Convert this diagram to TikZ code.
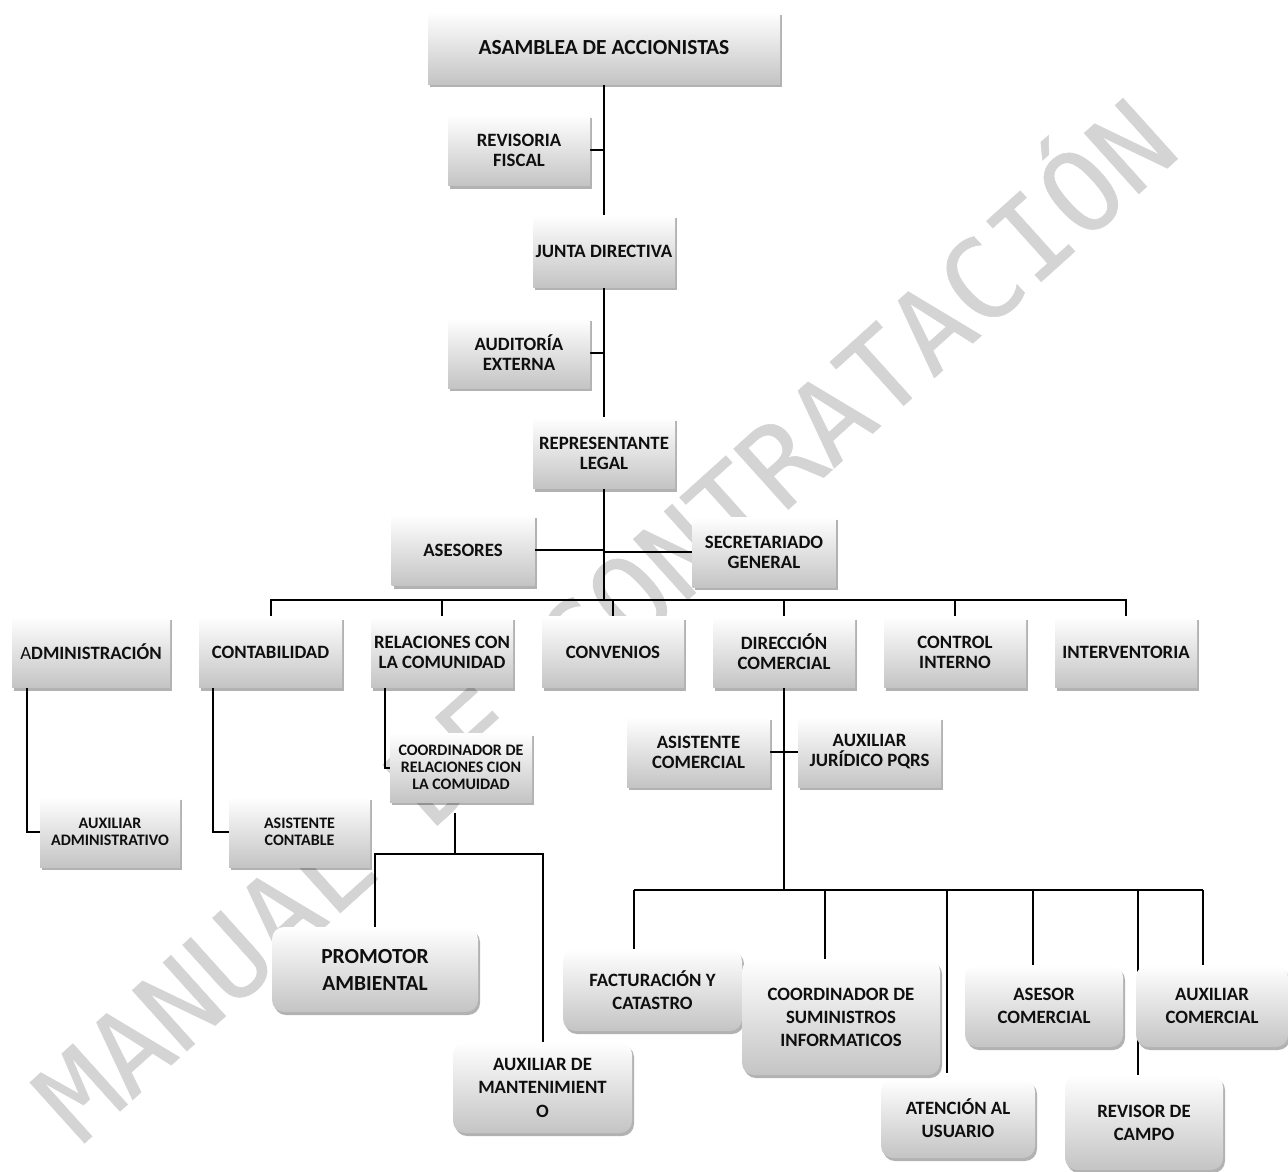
\documentclass[tikz,border=0pt]{standalone}
\usepackage{fontspec}
\setmainfont{Carlito}
\newfontfamily\wmfont[FakeBold=0.5]{DejaVu Sans Mono}
\usetikzlibrary{shadows,calc}
\pgfdeclarelayer{wm}\pgfdeclarelayer{bg}
\pgfsetlayers{wm,bg,main}
\definecolor{boxbot}{RGB}{196,196,196}
\definecolor{wmgray}{RGB}{212,212,212}
\definecolor{txt}{RGB}{15,15,15}
\begin{document}
\begin{tikzpicture}[x=1pt,y=-1pt,
 box/.style={top color=white,bottom color=boxbot,draw=none,align=center,text=txt,inner sep=0pt,
   font=\bfseries\fontsize{18.8}{20}\selectfont,
   drop shadow={shadow xshift=2pt,shadow yshift=-3pt,opacity=0.3,fill=black}},
 small/.style={font=\bfseries\fontsize{16}{17}\selectfont},
 rbox/.style={box,rounded corners=12pt,font=\bfseries\fontsize{18.8}{23}\selectfont},
 link/.style={line width=2pt,black},
]
\useasboundingbox (0,0) rectangle (1288,1171);
\begin{pgfonlayer}{wm}
\node[rotate=42,text=wmgray,inner sep=0pt,font=\wmfont\fontsize{112}{112}\selectfont] (wm) at (598,612) {MANUAL DE CONTRATACIÓN};
\end{pgfonlayer}
% nodes
\node[box,minimum width=352,minimum height=72,font=\bfseries\fontsize{21.5}{22}\selectfont] (asam) at (604,48) {ASAMBLEA DE ACCIONISTAS};
\node[box,minimum width=142,minimum height=71] (rev) at (519,150) {REVISORIA\\FISCAL};
\node[box,minimum width=142,minimum height=72] (junta) at (604,251) {JUNTA DIRECTIVA};
\node[box,minimum width=142,minimum height=70] (aud) at (519,353) {AUDITORÍA\\EXTERNA};
\node[box,minimum width=142,minimum height=71] (repr) at (604,453) {REPRESENTANTE\\LEGAL};
\node[box,minimum width=143,minimum height=71] (ases) at (463,550) {ASESORES};
\node[box,minimum width=143,minimum height=70] (secr) at (764,552) {SECRETARIADO\\GENERAL};
\node[box,minimum width=158,minimum height=71] (adm) at (91,652) {{\mdseries A}DMINISTRACIÓN};
\node[box,minimum width=143,minimum height=71] (cont) at (270.5,652) {CONTABILIDAD};
\node[box,minimum width=142,minimum height=71] (rel) at (442,652) {RELACIONES CON\\LA COMUNIDAD};
\node[box,minimum width=142,minimum height=71] (conv) at (613,652) {CONVENIOS};
\node[box,minimum width=142,minimum height=71] (dir) at (784,652) {DIRECCIÓN\\COMERCIAL};
\node[box,minimum width=142,minimum height=71] (ctrl) at (955,652) {CONTROL\\INTERNO};
\node[box,minimum width=142,minimum height=71] (inter) at (1126,652) {INTERVENTORIA};
\node[box,small,minimum width=140,minimum height=70] (auxadm) at (110,832) {AUXILIAR\\ADMINISTRATIVO};
\node[box,small,minimum width=141,minimum height=70] (asicont) at (299.5,832) {ASISTENTE\\CONTABLE};
\node[box,small,minimum width=142,minimum height=69] (coordrel) at (461,767.5) {COORDINADOR DE\\RELACIONES CION\\LA COMUIDAD};
\node[box,minimum width=143,minimum height=70] (asicom) at (698.5,752) {ASISTENTE\\COMERCIAL};
\node[box,minimum width=143,minimum height=70] (auxjur) at (869.5,752) {AUXILIAR\\JURÍDICO PQRS};
\node[rbox,minimum width=206,minimum height=85,font=\bfseries\fontsize{21.5}{27}\selectfont] (promo) at (375,969.5) {PROMOTOR\\AMBIENTAL};
\node[rbox,minimum width=179,minimum height=91,font=\bfseries\fontsize{18.8}{23.5}\selectfont] (mant) at (542.5,1087.5) {AUXILIAR DE\\MANTENIMIENT\\O};
\node[rbox,minimum width=179,minimum height=82] (fact) at (652.5,990) {FACTURACIÓN Y\\CATASTRO};
\node[rbox,minimum width=198,minimum height=116] (sumin) at (841,1017) {COORDINADOR DE\\SUMINISTROS\\INFORMATICOS};
\node[rbox,minimum width=154,minimum height=79] (aten) at (958,1118.5) {ATENCIÓN AL\\USUARIO};
\node[rbox,minimum width=158,minimum height=82] (asesor) at (1044,1006) {ASESOR\\COMERCIAL};
\node[rbox,minimum width=158,minimum height=95] (revisor) at (1144,1122.5) {REVISOR DE\\CAMPO};
\node[rbox,minimum width=152,minimum height=82] (auxcom) at (1212,1006) {AUXILIAR\\COMERCIAL};
% coordinates
\coordinate (bus) at (604,600);
\coordinate (b2) at (455,854);
\coordinate (b3) at (784,890);
\coordinate (d1) at (634,890);
\coordinate (d2) at (825,890);
\coordinate (d3) at (947,890);
\coordinate (d4) at (1033,890);
\coordinate (d5) at (1138,890);
\coordinate (d6) at (1203,890);
\begin{pgfonlayer}{bg}
\draw[link] (asam.south) -- (junta.north);
\draw[link] (rev.east) -- (rev.east -| asam.south);
\draw[link] (junta.south) -- (repr.north);
\draw[link] (aud.east) -- (aud.east -| junta.south);
\draw[link] (repr.south) -- (bus);
\draw[link] (ases.east) -- (ases.east -| repr.south);
\draw[link] (secr.west) -- (secr.west -| repr.south);
\draw[link] (cont.north) -- (cont.north |- bus) -- (inter.north |- bus) -- (inter.north);
\foreach \n in {rel,conv,dir,ctrl} {\draw[link] (\n.north) -- (\n.north |- bus);}
\draw[link] ($(adm.south west)+(15,0)$) |- (auxadm.west);
\draw[link] ($(cont.south west)+(14,0)$) |- (asicont.west);
\draw[link] ($(rel.south west)+(14,0)$) |- (coordrel.west);
\draw[link] (b2 |- coordrel.south) ++(0,11) -- (b2);
\draw[link] (promo.north) -- (promo.north |- b2) -- (mant.north |- b2) -- (mant.north);
\draw[link] (dir.south) -- (b3);
\draw[link] (asicom.east) -- (auxjur.west);
\draw[link] (d1) -- (d6);
\draw[link] (d1) -- (d1 |- fact.north);
\draw[link] (d2) -- (d2 |- sumin.north);
\draw[link] (d3) -- ($(d3 |- aten.north)+(0,-6)$);
\draw[link] (d4) -- (d4 |- asesor.north);
\draw[link] (d5) -- ($(d5 |- revisor.north)+(0,9)$);
\draw[link] (d6) -- (d6 |- auxcom.north);
\end{pgfonlayer}
\end{tikzpicture}
\end{document}
